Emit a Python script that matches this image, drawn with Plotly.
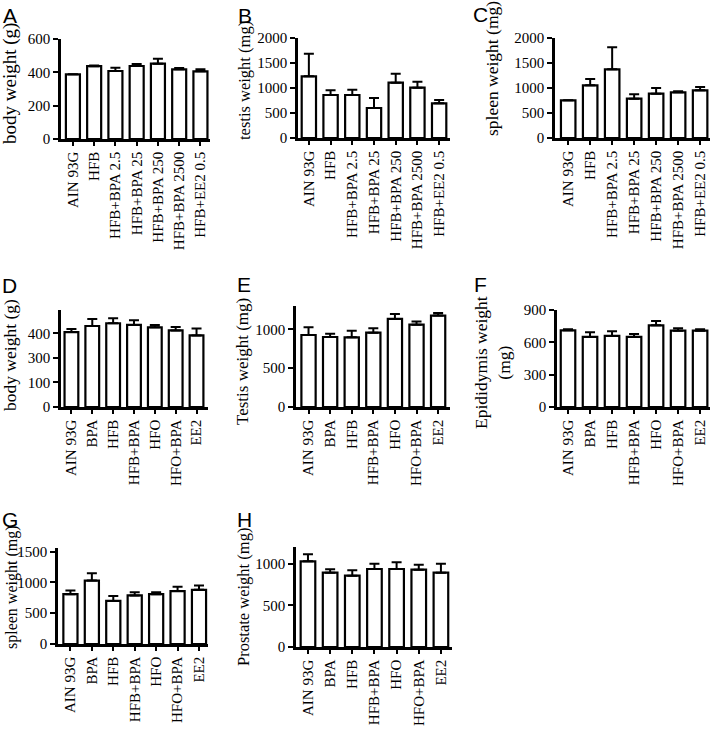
import plotly.graph_objects as go

W, H = 712, 729

# ---------------- data ----------------
cats_top = ["AIN 93G", "HFB", "HFB+BPA 2.5", "HFB+BPA 25", "HFB+BPA 250", "HFB+BPA 2500", "HFB+EE2 0.5"]
cats_bot = ["AIN 93G", "BPA", "HFB", "HFB+BPA", "HFO", "HFO+BPA", "EE2"]

a_body_weight = [388, 437, 408, 438, 452, 418, 406]
a_body_err = [0, 4, 20, 12, 30, 8, 12]

b_testis_weight = [1233, 860, 860, 600, 1107, 1007, 693]
b_testis_err = [453, 93, 107, 200, 180, 120, 67]

c_spleen_weight = [753, 1053, 1373, 787, 887, 913, 953]
c_spleen_err = [0, 127, 440, 86, 113, 20, 67]

d_body_weight = [407, 440, 455, 446, 433, 416, 389]
d_body_err = [17, 38, 27, 25, 13, 19, 37]
d_tick_text = ["0", "100", "300", "400"]

e_testis_weight = [927, 901, 897, 957, 1134, 1060, 1177]
e_testis_err = [99, 43, 86, 56, 64, 39, 34]

f_epid_weight = [711, 650, 659, 650, 758, 708, 708]
f_epid_err = [10, 43, 43, 27, 40, 22, 13]

g_spleen_weight = [810, 1030, 700, 790, 810, 860, 880]
g_spleen_err = [60, 120, 80, 50, 30, 70, 70]

h_prostate_weight = [1028, 892, 856, 936, 936, 928, 892]
h_prostate_err = [84, 40, 64, 64, 80, 60, 108]

# ---------------- panel layout (pixels) ----------------
panels = [
    dict(letter="A", cats=cats_top, v=a_body_weight, e=a_body_err,
         px=(61, 210), py=(39, 139), xr=(-0.56, 6.45), yr=(0, 600),
         tv=[0, 200, 400, 600], tt=None, title="body weight (g)",
         tpos=(10, 84), tsize=19, lpos=(1, 2)),
    dict(letter="B", cats=cats_top, v=b_testis_weight, e=b_testis_err,
         px=(298, 450), py=(38, 138), xr=(-0.5, 6.5), yr=(0, 2000),
         tv=[0, 500, 1000, 1500, 2000], tt=None, title="testis weight (mg)",
         tpos=(244, 81), tsize=16.5, lpos=(236, 2)),
    dict(letter="C", cats=cats_top, v=c_spleen_weight, e=c_spleen_err,
         px=(555, 710), py=(38, 138), xr=(-0.6, 6.45), yr=(0, 2000),
         tv=[0, 500, 1000, 1500, 2000], tt=None, title="spleen weight (mg)",
         tpos=(492, 69), tsize=17.5, lpos=(471, 1)),
    dict(letter="D", cats=cats_bot, v=d_body_weight, e=d_body_err,
         px=(61, 208), py=(310, 407), xr=(-0.5, 6.55), yr=(0, 527),
         tv=[0, 400 / 3, 800 / 3, 400], tt=d_tick_text, title="body weight (g)",
         tpos=(10, 355), tsize=17.5, lpos=(0, 272)),
    dict(letter="E", cats=cats_bot, v=e_testis_weight, e=e_testis_err,
         px=(296, 450), py=(306, 407), xr=(-0.58, 6.55), yr=(0, 1300),
         tv=[0, 500, 1000], tt=None, title="Testis weight (mg)",
         tpos=(243, 361), tsize=17, lpos=(235, 271)),
    dict(letter="F", cats=cats_bot, v=f_epid_weight, e=f_epid_err,
         px=(557, 710), py=(310, 407), xr=(-0.5, 6.45), yr=(0, 900),
         tv=[0, 300, 600, 900], tt=None, title="Epididymis weight<br>(mg)",
         tpos=(492, 363), tsize=17.5, lpos=(472, 271)),
    dict(letter="G", cats=cats_bot, v=g_spleen_weight, e=g_spleen_err,
         px=(58, 208), py=(548, 644), xr=(-0.58, 6.42), yr=(0, 1560),
         tv=[0, 500, 1000, 1500], tt=None, title="spleen weight (mg)",
         tpos=(12, 587), tsize=16, lpos=(0, 506)),
    dict(letter="H", cats=cats_bot, v=h_prostate_weight, e=h_prostate_err,
         px=(296, 452), py=(547, 647), xr=(-0.54, 6.5), yr=(0, 1200),
         tv=[0, 500, 1000], tt=None, title="Prostate weight (mg)",
         tpos=(243, 597), tsize=16.5, lpos=(235, 506)),
]

SERIF = "Liberation Serif, Times New Roman, serif"
SANS = "Liberation Sans, Arial, sans-serif"

fig = go.Figure()
layout = dict(
    width=W, height=H, autosize=False,
    margin=dict(l=0, r=0, t=0, b=0, pad=0, autoexpand=False),
    paper_bgcolor="white", plot_bgcolor="white",
    showlegend=False,
    annotations=[],
)

for i, p in enumerate(panels):
    k = "" if i == 0 else str(i + 1)
    xa, ya = "x" + k, "y" + k
    fig.add_trace(go.Bar(
        x=p["cats"], y=p["v"], xaxis=xa, yaxis=ya,
        marker=dict(color="white", line=dict(color="black", width=2.2)),
        width=0.66,
        error_y=dict(type="data", symmetric=False, array=p["e"],
                     arrayminus=[0] * len(p["e"]), color="black",
                     thickness=2, width=5),
        hoverinfo="skip",
    ))
    x0, x1 = p["px"]
    yt, yb = p["py"]
    layout["xaxis" + k] = dict(
        domain=[x0 / W, x1 / W], anchor=ya, type="category",
        range=list(p["xr"]), showline=True, linecolor="black", linewidth=2.5,
        ticks="outside", ticklen=4, tickwidth=2, tickcolor="black",
        tickangle=-90, tickfont=dict(family=SERIF, size=15, color="black"),
        showgrid=False, zeroline=False, fixedrange=True, automargin=False,
    )
    yax = dict(
        domain=[1 - yb / H, 1 - yt / H], anchor=xa,
        range=list(p["yr"]), showline=True, linecolor="black", linewidth=2.5,
        ticks="outside", ticklen=5, tickwidth=2, tickcolor="black",
        tickmode="array", tickvals=p["tv"],
        tickfont=dict(family=SERIF, size=15, color="black"),
        showgrid=False, zeroline=False, fixedrange=True, automargin=False,
    )
    if p["tt"] is not None:
        yax["ticktext"] = p["tt"]
    layout["yaxis" + k] = yax

    tx, ty = p["tpos"]
    layout["annotations"].append(dict(
        text=p["title"], x=tx / W, y=1 - ty / H, xref="paper", yref="paper",
        xanchor="center", yanchor="middle", textangle=-90, showarrow=False,
        font=dict(family=SERIF, size=p["tsize"], color="black"),
    ))
    lx, ly = p["lpos"]
    layout["annotations"].append(dict(
        text=p["letter"], x=lx / W, y=1 - ly / H, xref="paper", yref="paper",
        xanchor="left", yanchor="top", showarrow=False,
        font=dict(family=SANS, size=21, color="black"),
    ))

fig.update_layout(**layout)
fig.write_html(
    "out.html",
    config={"displayModeBar": False},
    post_script="document.body.style.margin='0px';document.body.style.overflow='hidden';",
)
